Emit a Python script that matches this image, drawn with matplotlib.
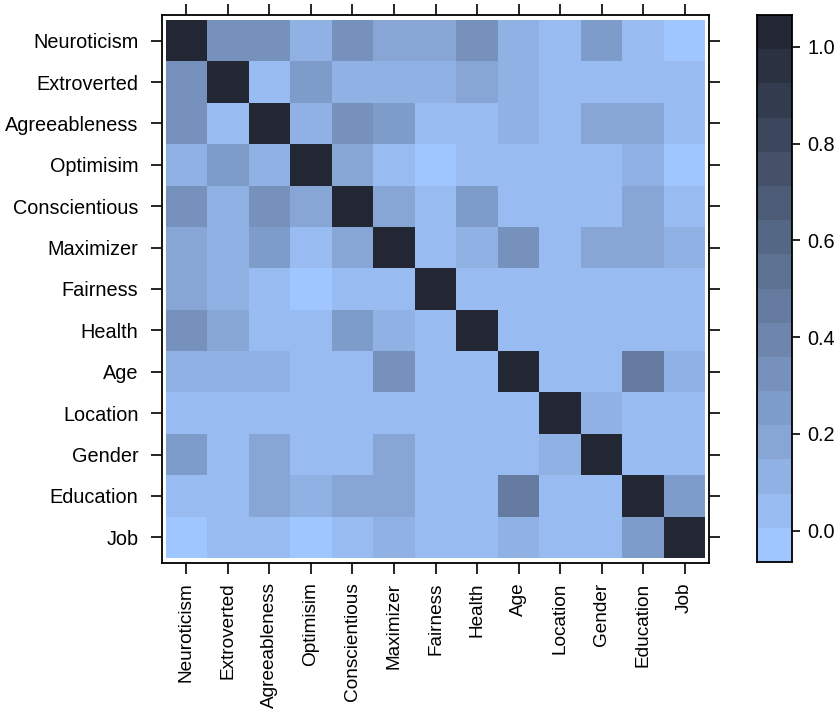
import numpy as np
import matplotlib
matplotlib.use("Agg")
import matplotlib.pyplot as plt
from matplotlib.colors import ListedColormap, BoundaryNorm, to_rgb

plt.rcParams['font.family'] = ['Liberation Sans', 'DejaVu Sans']

variables = ["Neuroticism", "Extroverted", "Agreeableness", "Optimisim",
             "Conscientious", "Maximizer", "Fairness", "Health", "Age",
             "Location", "Gender", "Education", "Job"]

# correlation matrix, rows top to bottom in the order of `variables`
corr = [
    [1.00, 0.32, 0.32, 0.11, 0.32, 0.18, 0.18, 0.32, 0.11, 0.04, 0.25, 0.04, -0.03],
    [0.32, 1.00, 0.04, 0.25, 0.11, 0.11, 0.11, 0.18, 0.11, 0.04, 0.04, 0.04, 0.04],
    [0.32, 0.04, 1.00, 0.11, 0.32, 0.25, 0.04, 0.04, 0.11, 0.04, 0.18, 0.18, 0.04],
    [0.11, 0.25, 0.11, 1.00, 0.18, 0.04, -0.03, 0.04, 0.04, 0.04, 0.04, 0.11, -0.03],
    [0.32, 0.11, 0.32, 0.18, 1.00, 0.18, 0.04, 0.25, 0.04, 0.04, 0.04, 0.18, 0.04],
    [0.18, 0.11, 0.25, 0.04, 0.18, 1.00, 0.04, 0.11, 0.32, 0.04, 0.18, 0.18, 0.11],
    [0.18, 0.11, 0.04, -0.03, 0.04, 0.04, 1.00, 0.04, 0.04, 0.04, 0.04, 0.04, 0.04],
    [0.32, 0.18, 0.04, 0.04, 0.25, 0.11, 0.04, 1.00, 0.04, 0.04, 0.04, 0.04, 0.04],
    [0.11, 0.11, 0.11, 0.04, 0.04, 0.32, 0.04, 0.04, 1.00, 0.04, 0.04, 0.46, 0.11],
    [0.04, 0.04, 0.04, 0.04, 0.04, 0.04, 0.04, 0.04, 0.04, 1.00, 0.11, 0.04, 0.04],
    [0.25, 0.04, 0.18, 0.04, 0.04, 0.18, 0.04, 0.04, 0.04, 0.11, 1.00, 0.04, 0.04],
    [0.04, 0.04, 0.18, 0.11, 0.18, 0.18, 0.04, 0.04, 0.46, 0.04, 0.04, 1.00, 0.25],
    [-0.03, 0.04, 0.04, -0.03, 0.04, 0.11, 0.04, 0.04, 0.11, 0.04, 0.04, 0.25, 1.00],
]

colorbar_ticks = [0.0, 0.2, 0.4, 0.6, 0.8, 1.0]
level_min, level_max, n_bands = -0.065, 1.066, 16

levels = np.linspace(level_min, level_max, n_bands + 1)
c0 = np.array(to_rgb("#A0C6FF"))
c1 = np.array(to_rgb("#222733"))
cols = [tuple(c0 + (c1 - c0) * t) for t in np.linspace(0, 1, n_bands)]
cmap = ListedColormap(cols)
norm = BoundaryNorm(levels, cmap.N)

W, H = 834, 711
fig = plt.figure(figsize=(W / 100, H / 100), dpi=100)
fig.patch.set_facecolor("white")

def px_axes(l, t, r, b):
    return fig.add_axes([l / W, 1 - b / H, (r - l) / W, (b - t) / H])

ax = px_axes(162, 15, 709, 563)
data = np.array(corr)
n = len(variables)
ax.pcolormesh(np.arange(n + 1) - 0.5, np.arange(n + 1) - 0.5, data,
              cmap=cmap, norm=norm, shading="flat")
ax.set_xlim(-0.59, n - 1 + 0.59)
ax.set_ylim(n - 1 + 0.62, -0.62)
ax.set_xticks(range(n))
ax.set_yticks(range(n))
ax.set_xticklabels(variables, rotation=90, fontsize=13.7)
ax.set_yticklabels(variables, fontsize=14.3)
ax.tick_params(direction="out", length=8, width=1.2, color="black",
               top=True, right=True, labeltop=False, labelright=False)
ax.tick_params(axis="x", pad=6.0)
ax.tick_params(axis="y", pad=9.0)
for s in ax.spines.values():
    s.set_linewidth(1.3)
    s.set_color("black")

cax = px_axes(757, 15, 792, 562)
cb_vals = np.array([levels[:-1] + np.diff(levels) / 2]).T
cax.pcolormesh([0, 1], levels, cb_vals, cmap=cmap, norm=norm, shading="flat")
cax.set_xlim(0, 1)
cax.set_ylim(level_min, level_max)
cax.set_xticks([])
cax.yaxis.tick_right()
cax.set_yticks(colorbar_ticks)
cax.set_yticklabels([f"{v:.1f}" for v in colorbar_ticks], fontsize=14.3)
cax.tick_params(direction="out", length=6, width=1.2, pad=5)
for s in cax.spines.values():
    s.set_linewidth(1.3)
    s.set_color("black")

fig.savefig("out.png", dpi=100, facecolor="white")
